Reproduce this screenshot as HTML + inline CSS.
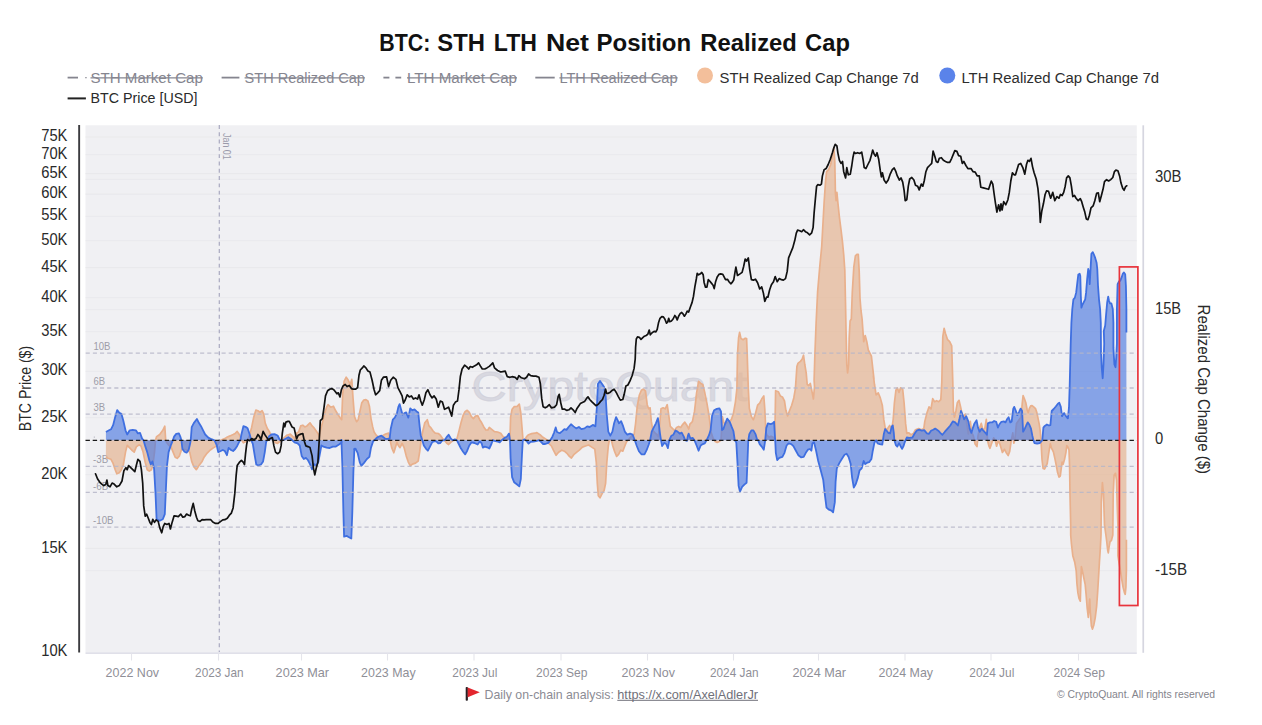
<!DOCTYPE html>
<html><head><meta charset="utf-8"><title>BTC: STH LTH Net Position Realized Cap</title>
<style>html,body{margin:0;padding:0;background:#fff;}body{width:1262px;height:725px;overflow:hidden;font-family:"Liberation Sans",sans-serif;}svg{display:block;}text{font-family:"Liberation Sans",sans-serif;}</style>
</head><body>
<svg width="1262" height="725" viewBox="0 0 1262 725">
<rect x="0" y="0" width="1262" height="725" fill="#ffffff"/>
<rect x="85.5" y="125.3" width="1051.3" height="527.3" fill="#f0f0f3"/>
<g stroke="#e9e9ec" stroke-width="1.1">
<line x1="85.5" y1="548.4" x2="1136.8" y2="548.4"/>
<line x1="85.5" y1="474.8" x2="1136.8" y2="474.8"/>
<line x1="85.5" y1="417.8" x2="1136.8" y2="417.8"/>
<line x1="85.5" y1="371.2" x2="1136.8" y2="371.2"/>
<line x1="85.5" y1="331.8" x2="1136.8" y2="331.8"/>
<line x1="85.5" y1="297.7" x2="1136.8" y2="297.7"/>
<line x1="85.5" y1="267.6" x2="1136.8" y2="267.6"/>
<line x1="85.5" y1="240.7" x2="1136.8" y2="240.7"/>
<line x1="85.5" y1="216.3" x2="1136.8" y2="216.3"/>
<line x1="85.5" y1="194.1" x2="1136.8" y2="194.1"/>
<line x1="85.5" y1="173.6" x2="1136.8" y2="173.6"/>
<line x1="85.5" y1="154.7" x2="1136.8" y2="154.7"/>
<line x1="85.5" y1="137.0" x2="1136.8" y2="137.0"/>
<line x1="85.5" y1="570.7" x2="1136.8" y2="570.7"/>
<line x1="85.5" y1="309.7" x2="1136.8" y2="309.7"/>
<line x1="85.5" y1="179.2" x2="1136.8" y2="179.2"/>
</g>
<line x1="85.5" y1="653.1" x2="1136.8" y2="653.1" stroke="#d6d6e2" stroke-width="1.2"/>
<g stroke="#e5e5eb" stroke-width="1.1">
<line x1="131.5" y1="653.6" x2="131.5" y2="660.5"/>
<line x1="218.5" y1="653.6" x2="218.5" y2="660.5"/>
<line x1="301.5" y1="653.6" x2="301.5" y2="660.5"/>
<line x1="387.5" y1="653.6" x2="387.5" y2="660.5"/>
<line x1="474.0" y1="653.6" x2="474.0" y2="660.5"/>
<line x1="561.0" y1="653.6" x2="561.0" y2="660.5"/>
<line x1="647.5" y1="653.6" x2="647.5" y2="660.5"/>
<line x1="733.5" y1="653.6" x2="733.5" y2="660.5"/>
<line x1="818.5" y1="653.6" x2="818.5" y2="660.5"/>
<line x1="905.0" y1="653.6" x2="905.0" y2="660.5"/>
<line x1="991.0" y1="653.6" x2="991.0" y2="660.5"/>
<line x1="1078.5" y1="653.6" x2="1078.5" y2="660.5"/>
</g>
<text x="471.5" y="401" font-size="42" fill="#cfcfd9" fill-opacity="0.72" stroke="#cfcfd9" stroke-opacity="0.72" stroke-width="0.9" textLength="276" lengthAdjust="spacingAndGlyphs">CryptoQuant</text>
<text x="93.4" y="350.3" font-size="10.4" fill="#9d9da8" textLength="17.0" lengthAdjust="spacingAndGlyphs">10B</text>
<text x="93.4" y="385.1" font-size="10.4" fill="#9d9da8" textLength="11.6" lengthAdjust="spacingAndGlyphs">6B</text>
<text x="93.4" y="411.2" font-size="10.4" fill="#9d9da8" textLength="11.6" lengthAdjust="spacingAndGlyphs">3B</text>
<text x="93.0" y="463.4" font-size="10.4" fill="#9d9da8" textLength="15.2" lengthAdjust="spacingAndGlyphs">-3B</text>
<text x="93.0" y="489.5" font-size="10.4" fill="#9d9da8" textLength="15.2" lengthAdjust="spacingAndGlyphs">-6B</text>
<text x="93.0" y="524.3" font-size="10.4" fill="#9d9da8" textLength="20.6" lengthAdjust="spacingAndGlyphs">-10B</text>
<rect x="93.8" y="436.6" width="1" height="1" fill="#a5a5b0"/>
<line x1="219.3" y1="125" x2="219.3" y2="652" stroke="#a9a9c0" stroke-width="1.2" stroke-dasharray="3.9 3.4"/>
<text transform="translate(222.6,133) rotate(90)" font-size="10" fill="#9b9bab" textLength="26.8" lengthAdjust="spacingAndGlyphs">Jan 01</text>
<path d="M105.9 440.2 L105.9 440.3 L105.9 457.2 L107.9 458.3 L111.0 459.3 L113.1 463.4 L115.2 469.7 L116.8 473.8 L119.3 472.8 L121.4 469.7 L123.4 464.5 L125.5 452.1 L127.2 445.4 L129.7 447.9 L131.7 450.0 L134.2 452.1 L136.3 446.9 L139.0 444.8 L141.0 445.9 L143.1 452.1 L145.2 462.4 L147.2 469.7 L149.3 471.1 L151.4 469.7 L152.8 465.5 L154.5 452.1 L155.5 440.3 L156.6 436.6 L159.7 434.5 L162.8 430.3 L164.8 426.2 L165.7 440.3 L166.9 442.8 L169.0 445.4 L171.0 446.9 L173.1 452.1 L175.2 457.2 L177.2 458.3 L179.3 456.2 L181.4 450.0 L183.4 449.0 L186.6 450.0 L189.7 452.1 L191.7 461.4 L193.8 466.6 L196.3 469.7 L199.0 465.5 L202.1 461.4 L204.1 457.2 L207.2 453.1 L210.3 450.0 L213.4 447.9 L216.6 445.9 L218.2 443.8 L220.7 440.3 L224.8 438.6 L226.9 437.2 L230.0 435.9 L233.1 434.5 L235.2 433.4 L237.2 431.4 L239.3 434.5 L241.4 439.7 L243.4 442.8 L245.5 441.7 L247.6 440.3 L249.7 434.5 L251.7 427.2 L253.8 416.9 L255.9 410.1 L257.9 410.7 L260.0 412.3 L262.1 410.7 L263.7 413.8 L265.2 423.1 L267.2 428.3 L269.3 431.4 L271.4 436.6 L273.4 440.3 L275.5 442.8 L277.6 443.4 L279.7 441.7 L281.7 440.3 L283.8 438.0 L286.9 435.1 L287.2 435.2 L290.3 434.1 L292.4 436.2 L294.5 438.3 L296.6 433.1 L298.6 432.1 L300.7 425.9 L302.8 425.2 L304.8 426.9 L306.9 425.9 L310.0 422.8 L312.1 425.9 L314.1 427.9 L316.2 431.0 L318.3 434.1 L319.3 437.2 L320.3 431.0 L322.4 422.8 L324.5 413.4 L326.6 407.2 L328.0 404.6 L330.7 407.2 L333.4 406.2 L335.4 410.3 L337.9 414.5 L340.0 417.6 L341.7 419.7 L342.7 393.8 L344.1 381.4 L346.2 377.2 L348.3 380.3 L350.3 384.5 L351.8 379.3 L353.0 397.9 L354.5 416.6 L356.6 421.7 L358.2 419.7 L359.7 412.4 L361.7 403.1 L363.8 400.0 L365.9 399.6 L367.9 401.0 L369.4 406.2 L371.0 418.6 L372.7 426.9 L374.1 432.1 L376.2 435.2 L378.3 437.2 L379.3 439.3 L381.4 437.2 L383.4 435.2 L385.5 434.1 L388.6 433.1 L390.1 440.3 L391.7 447.6 L393.8 452.8 L395.4 447.6 L396.9 442.4 L398.3 445.5 L400.0 447.6 L402.1 443.4 L404.1 447.6 L406.2 455.9 L408.3 462.1 L410.3 465.8 L412.4 464.1 L415.5 463.1 L418.2 461.0 L419.7 451.7 L421.1 440.3 L422.8 431.0 L424.8 422.8 L427.3 419.7 L429.0 425.9 L431.0 427.9 L433.1 431.0 L435.2 433.1 L438.3 433.5 L440.3 435.2 L442.4 438.3 L444.5 440.3 L446.6 443.0 L448.6 444.5 L450.7 442.4 L452.8 440.8 L454.8 440.3 L456.9 438.9 L459.0 431.0 L461.0 422.8 L463.1 415.5 L465.2 411.4 L467.2 410.3 L469.3 412.4 L471.4 416.6 L473.4 418.6 L475.5 416.1 L477.6 415.5 L479.7 419.7 L481.7 422.8 L483.8 426.9 L485.9 430.0 L487.9 430.0 L489.3 427.4 L491.4 429.1 L494.5 431.6 L497.6 432.0 L500.7 433.2 L503.2 436.7 L505.9 437.8 L507.9 438.8 L510.0 437.8 L510.6 417.1 L512.1 409.2 L514.1 406.7 L517.2 406.3 L519.3 404.2 L520.8 412.9 L522.0 427.4 L523.0 440.2 L524.5 440.2 L526.6 436.7 L528.6 434.7 L531.7 433.6 L534.8 433.2 L536.9 432.6 L540.0 434.7 L542.1 436.7 L545.2 438.8 L547.2 440.2 L549.3 444.0 L551.4 446.0 L553.4 450.2 L556.1 455.3 L558.6 452.2 L561.7 450.2 L564.4 451.2 L566.9 453.3 L569.4 456.4 L571.4 458.0 L574.1 454.3 L576.8 452.2 L579.3 450.2 L582.4 447.1 L585.5 446.0 L588.6 445.0 L591.7 447.1 L594.8 449.1 L596.3 462.6 L597.3 483.3 L598.3 495.7 L600.0 497.8 L602.1 493.6 L604.1 490.5 L605.6 483.3 L606.8 462.6 L608.3 446.0 L609.3 440.2 L611.4 440.2 L612.8 446.0 L614.5 451.2 L616.6 456.4 L618.6 454.3 L620.7 450.2 L622.8 451.2 L624.8 446.0 L626.5 441.9 L627.9 440.2 L630.0 437.8 L632.1 435.7 L634.1 434.7 L635.6 423.3 L637.2 406.7 L639.3 395.3 L641.4 390.2 L643.4 389.1 L645.5 391.2 L647.2 404.7 L648.6 408.8 L650.1 407.8 L651.3 421.2 L652.8 430.5 L654.8 432.6 L656.9 434.7 L658.3 436.7 L659.6 425.3 L661.0 408.8 L663.1 407.8 L665.2 408.8 L667.2 404.7 L668.7 415.0 L670.3 426.4 L672.4 428.4 L674.5 430.5 L676.6 427.4 L678.6 426.4 L680.7 427.4 L682.8 424.3 L684.8 422.2 L686.9 425.3 L688.7 429.0 L689.9 424.2 L692.4 421.7 L694.5 411.4 L696.6 392.8 L698.6 381.4 L700.7 383.4 L702.8 384.5 L704.8 392.8 L706.9 403.1 L709.0 415.5 L711.0 432.1 L713.1 438.3 L715.2 441.4 L717.2 442.4 L719.3 441.4 L721.0 440.3 L722.4 416.6 L723.9 422.8 L725.5 423.8 L728.6 421.7 L731.3 419.7 L733.4 413.4 L735.4 402.1 L736.9 388.6 L737.5 354.1 L738.6 337.6 L739.6 332.4 L741.0 338.6 L743.1 339.7 L745.2 338.2 L746.6 338.6 L747.2 354.1 L748.3 388.6 L749.3 408.3 L751.4 416.6 L753.4 419.7 L755.5 413.4 L757.6 405.2 L759.7 403.1 L761.7 399.0 L763.8 395.9 L764.8 409.3 L765.9 432.1 L766.9 435.2 L769.0 437.2 L771.0 436.2 L773.1 437.2 L774.8 438.3 L775.6 390.7 L778.3 391.7 L780.3 395.9 L782.4 396.9 L784.5 401.0 L785.9 410.3 L787.6 415.9 L789.7 410.3 L791.7 405.2 L793.8 397.9 L795.4 388.6 L796.9 366.6 L797.9 363.4 L800.4 361.4 L802.1 359.3 L803.5 355.2 L804.8 364.5 L806.2 372.8 L807.2 384.5 L808.7 385.5 L810.3 383.4 L812.0 391.7 L813.4 399.0 L814.5 386.6 L814.1 380.0 L814.9 354.1 L816.1 323.1 L817.6 292.1 L819.7 267.2 L821.7 246.6 L822.4 233.8 L824.1 202.8 L825.5 182.1 L826.6 171.7 L828.6 169.7 L830.7 164.5 L832.3 155.2 L833.8 147.9 L834.8 161.4 L835.4 192.4 L836.1 200.7 L836.9 192.4 L837.9 202.8 L839.4 217.2 L841.0 229.7 L842.5 242.1 L843.7 254.5 L844.8 270.0 L845.5 302.4 L846.1 333.4 L846.8 364.5 L847.6 372.8 L848.6 364.5 L849.2 337.6 L850.1 321.0 L851.3 319.0 L852.3 292.1 L853.8 267.2 L855.4 255.9 L856.9 254.4 L858.3 254.4 L859.2 271.4 L860.0 298.3 L861.0 310.7 L862.1 319.0 L863.7 341.7 L865.2 335.5 L866.8 341.7 L868.3 350.0 L869.9 353.1 L871.4 356.2 L872.8 368.6 L874.1 380.0 L873.4 376.2 L874.5 384.5 L876.1 394.8 L878.2 392.8 L880.3 397.9 L882.3 405.2 L883.8 419.7 L885.2 427.9 L886.9 430.0 L888.2 427.6 L889.7 425.5 L891.7 429.7 L893.2 419.3 L894.4 402.8 L895.9 390.3 L897.3 387.9 L899.0 392.4 L900.6 387.9 L902.7 389.3 L904.1 402.8 L905.6 423.4 L906.8 433.4 L908.9 432.8 L911.0 434.8 L913.4 433.4 L915.5 429.7 L918.6 428.6 L921.7 429.7 L923.8 428.6 L924.8 421.4 L926.9 413.1 L929.0 406.9 L931.0 409.0 L932.7 398.6 L934.6 401.7 L936.6 400.7 L938.7 401.7 L940.8 399.7 L941.8 382.1 L942.8 336.6 L944.1 328.3 L945.5 333.4 L947.6 339.7 L949.7 341.7 L951.7 345.9 L952.8 382.1 L953.4 411.0 L954.4 417.2 L955.9 411.0 L957.3 402.8 L959.0 400.3 L960.6 406.9 L962.1 414.1 L963.5 417.2 L965.2 414.1 L966.8 423.4 L968.3 433.8 L970.3 421.4 L971.8 432.8 L973.4 435.9 L975.1 444.1 L977.0 446.6 L978.0 435.9 L979.7 427.6 L981.3 423.4 L982.8 429.7 L984.8 428.6 L986.3 419.3 L987.5 440.2 L989.0 446.2 L990.0 448.3 L992.1 442.1 L993.7 437.9 L995.2 440.2 L996.6 446.2 L998.3 440.2 L999.9 444.1 L1002.4 452.4 L1004.5 449.3 L1006.1 452.4 L1008.2 455.5 L1009.7 451.4 L1011.3 440.2 L1012.8 432.8 L1013.8 443.1 L1014.8 440.2 L1016.5 423.4 L1017.9 421.4 L1019.4 419.3 L1021.0 417.2 L1022.3 402.8 L1023.1 395.5 L1024.5 399.0 L1025.9 403.1 L1027.2 410.0 L1028.2 412.8 L1029.3 408.6 L1030.7 405.9 L1032.1 405.6 L1033.4 406.6 L1035.5 408.6 L1036.9 412.8 L1038.3 419.7 L1039.4 425.2 L1040.1 430.0 L1041.0 440.2 L1042.0 459.5 L1043.1 468.4 L1044.5 469.1 L1045.9 466.4 L1047.2 463.6 L1048.6 454.0 L1050.3 443.6 L1051.4 447.8 L1053.4 451.9 L1054.8 458.1 L1056.2 465.0 L1057.6 472.6 L1059.0 477.1 L1060.3 476.0 L1061.3 467.8 L1062.1 462.2 L1063.1 464.3 L1064.5 459.5 L1065.9 452.6 L1066.8 445.7 L1067.9 447.1 L1069.0 449.8 L1069.6 466.4 L1070.0 494.0 L1070.7 525.0 L1070.7 535.0 L1071.4 543.3 L1072.8 555.7 L1074.8 562.6 L1076.2 570.9 L1076.9 583.3 L1077.9 592.9 L1079.0 598.4 L1080.3 601.2 L1080.8 583.3 L1081.4 566.7 L1082.4 570.9 L1083.8 577.8 L1085.2 584.7 L1086.1 594.3 L1087.2 608.1 L1088.3 617.5 L1089.0 606.7 L1089.7 599.1 L1090.3 612.2 L1091.4 626.0 L1092.5 629.1 L1093.9 624.7 L1095.2 617.8 L1096.6 606.7 L1097.6 592.9 L1098.6 576.4 L1099.4 562.6 L1100.3 548.8 L1101.0 535.0 L1101.3 502.2 L1102.4 482.7 L1103.5 494.0 L1104.5 525.0 L1105.9 535.0 L1106.6 540.5 L1107.7 550.2 L1108.3 552.9 L1109.0 547.4 L1110.0 541.9 L1111.4 540.5 L1112.8 535.0 L1113.2 494.0 L1114.1 475.3 L1115.5 473.3 L1116.5 480.2 L1117.3 507.8 L1117.9 525.0 L1117.9 555.7 L1119.0 562.6 L1120.3 569.5 L1121.7 579.1 L1123.1 587.4 L1124.5 592.9 L1125.2 594.3 L1125.9 587.4 L1126.4 569.5 L1126.4 539.8 L1126.4 440.2 L1126.4 440.2 Z" fill="#e5b594" fill-opacity="0.72"/>
<path d="M105.9 457.2 L107.9 458.3 L111.0 459.3 L113.1 463.4 L115.2 469.7 L116.8 473.8 L119.3 472.8 L121.4 469.7 L123.4 464.5 L125.5 452.1 L127.2 445.4 L129.7 447.9 L131.7 450.0 L134.2 452.1 L136.3 446.9 L139.0 444.8 L141.0 445.9 L143.1 452.1 L145.2 462.4 L147.2 469.7 L149.3 471.1 L151.4 469.7 L152.8 465.5 L154.5 452.1 L155.5 440.3 L156.6 436.6 L159.7 434.5 L162.8 430.3 L164.8 426.2 L165.7 440.3 L166.9 442.8 L169.0 445.4 L171.0 446.9 L173.1 452.1 L175.2 457.2 L177.2 458.3 L179.3 456.2 L181.4 450.0 L183.4 449.0 L186.6 450.0 L189.7 452.1 L191.7 461.4 L193.8 466.6 L196.3 469.7 L199.0 465.5 L202.1 461.4 L204.1 457.2 L207.2 453.1 L210.3 450.0 L213.4 447.9 L216.6 445.9 L218.2 443.8 L220.7 440.3 L224.8 438.6 L226.9 437.2 L230.0 435.9 L233.1 434.5 L235.2 433.4 L237.2 431.4 L239.3 434.5 L241.4 439.7 L243.4 442.8 L245.5 441.7 L247.6 440.3 L249.7 434.5 L251.7 427.2 L253.8 416.9 L255.9 410.1 L257.9 410.7 L260.0 412.3 L262.1 410.7 L263.7 413.8 L265.2 423.1 L267.2 428.3 L269.3 431.4 L271.4 436.6 L273.4 440.3 L275.5 442.8 L277.6 443.4 L279.7 441.7 L281.7 440.3 L283.8 438.0 L286.9 435.1 L287.2 435.2 L290.3 434.1 L292.4 436.2 L294.5 438.3 L296.6 433.1 L298.6 432.1 L300.7 425.9 L302.8 425.2 L304.8 426.9 L306.9 425.9 L310.0 422.8 L312.1 425.9 L314.1 427.9 L316.2 431.0 L318.3 434.1 L319.3 437.2 L320.3 431.0 L322.4 422.8 L324.5 413.4 L326.6 407.2 L328.0 404.6 L330.7 407.2 L333.4 406.2 L335.4 410.3 L337.9 414.5 L340.0 417.6 L341.7 419.7 L342.7 393.8 L344.1 381.4 L346.2 377.2 L348.3 380.3 L350.3 384.5 L351.8 379.3 L353.0 397.9 L354.5 416.6 L356.6 421.7 L358.2 419.7 L359.7 412.4 L361.7 403.1 L363.8 400.0 L365.9 399.6 L367.9 401.0 L369.4 406.2 L371.0 418.6 L372.7 426.9 L374.1 432.1 L376.2 435.2 L378.3 437.2 L379.3 439.3 L381.4 437.2 L383.4 435.2 L385.5 434.1 L388.6 433.1 L390.1 440.3 L391.7 447.6 L393.8 452.8 L395.4 447.6 L396.9 442.4 L398.3 445.5 L400.0 447.6 L402.1 443.4 L404.1 447.6 L406.2 455.9 L408.3 462.1 L410.3 465.8 L412.4 464.1 L415.5 463.1 L418.2 461.0 L419.7 451.7 L421.1 440.3 L422.8 431.0 L424.8 422.8 L427.3 419.7 L429.0 425.9 L431.0 427.9 L433.1 431.0 L435.2 433.1 L438.3 433.5 L440.3 435.2 L442.4 438.3 L444.5 440.3 L446.6 443.0 L448.6 444.5 L450.7 442.4 L452.8 440.8 L454.8 440.3 L456.9 438.9 L459.0 431.0 L461.0 422.8 L463.1 415.5 L465.2 411.4 L467.2 410.3 L469.3 412.4 L471.4 416.6 L473.4 418.6 L475.5 416.1 L477.6 415.5 L479.7 419.7 L481.7 422.8 L483.8 426.9 L485.9 430.0 L487.9 430.0 L489.3 427.4 L491.4 429.1 L494.5 431.6 L497.6 432.0 L500.7 433.2 L503.2 436.7 L505.9 437.8 L507.9 438.8 L510.0 437.8 L510.6 417.1 L512.1 409.2 L514.1 406.7 L517.2 406.3 L519.3 404.2 L520.8 412.9 L522.0 427.4 L523.0 440.2 L524.5 440.2 L526.6 436.7 L528.6 434.7 L531.7 433.6 L534.8 433.2 L536.9 432.6 L540.0 434.7 L542.1 436.7 L545.2 438.8 L547.2 440.2 L549.3 444.0 L551.4 446.0 L553.4 450.2 L556.1 455.3 L558.6 452.2 L561.7 450.2 L564.4 451.2 L566.9 453.3 L569.4 456.4 L571.4 458.0 L574.1 454.3 L576.8 452.2 L579.3 450.2 L582.4 447.1 L585.5 446.0 L588.6 445.0 L591.7 447.1 L594.8 449.1 L596.3 462.6 L597.3 483.3 L598.3 495.7 L600.0 497.8 L602.1 493.6 L604.1 490.5 L605.6 483.3 L606.8 462.6 L608.3 446.0 L609.3 440.2 L611.4 440.2 L612.8 446.0 L614.5 451.2 L616.6 456.4 L618.6 454.3 L620.7 450.2 L622.8 451.2 L624.8 446.0 L626.5 441.9 L627.9 440.2 L630.0 437.8 L632.1 435.7 L634.1 434.7 L635.6 423.3 L637.2 406.7 L639.3 395.3 L641.4 390.2 L643.4 389.1 L645.5 391.2 L647.2 404.7 L648.6 408.8 L650.1 407.8 L651.3 421.2 L652.8 430.5 L654.8 432.6 L656.9 434.7 L658.3 436.7 L659.6 425.3 L661.0 408.8 L663.1 407.8 L665.2 408.8 L667.2 404.7 L668.7 415.0 L670.3 426.4 L672.4 428.4 L674.5 430.5 L676.6 427.4 L678.6 426.4 L680.7 427.4 L682.8 424.3 L684.8 422.2 L686.9 425.3 L688.7 429.0 L689.9 424.2 L692.4 421.7 L694.5 411.4 L696.6 392.8 L698.6 381.4 L700.7 383.4 L702.8 384.5 L704.8 392.8 L706.9 403.1 L709.0 415.5 L711.0 432.1 L713.1 438.3 L715.2 441.4 L717.2 442.4 L719.3 441.4 L721.0 440.3 L722.4 416.6 L723.9 422.8 L725.5 423.8 L728.6 421.7 L731.3 419.7 L733.4 413.4 L735.4 402.1 L736.9 388.6 L737.5 354.1 L738.6 337.6 L739.6 332.4 L741.0 338.6 L743.1 339.7 L745.2 338.2 L746.6 338.6 L747.2 354.1 L748.3 388.6 L749.3 408.3 L751.4 416.6 L753.4 419.7 L755.5 413.4 L757.6 405.2 L759.7 403.1 L761.7 399.0 L763.8 395.9 L764.8 409.3 L765.9 432.1 L766.9 435.2 L769.0 437.2 L771.0 436.2 L773.1 437.2 L774.8 438.3 L775.6 390.7 L778.3 391.7 L780.3 395.9 L782.4 396.9 L784.5 401.0 L785.9 410.3 L787.6 415.9 L789.7 410.3 L791.7 405.2 L793.8 397.9 L795.4 388.6 L796.9 366.6 L797.9 363.4 L800.4 361.4 L802.1 359.3 L803.5 355.2 L804.8 364.5 L806.2 372.8 L807.2 384.5 L808.7 385.5 L810.3 383.4 L812.0 391.7 L813.4 399.0 L814.5 386.6 L814.1 380.0 L814.9 354.1 L816.1 323.1 L817.6 292.1 L819.7 267.2 L821.7 246.6 L822.4 233.8 L824.1 202.8 L825.5 182.1 L826.6 171.7 L828.6 169.7 L830.7 164.5 L832.3 155.2 L833.8 147.9 L834.8 161.4 L835.4 192.4 L836.1 200.7 L836.9 192.4 L837.9 202.8 L839.4 217.2 L841.0 229.7 L842.5 242.1 L843.7 254.5 L844.8 270.0 L845.5 302.4 L846.1 333.4 L846.8 364.5 L847.6 372.8 L848.6 364.5 L849.2 337.6 L850.1 321.0 L851.3 319.0 L852.3 292.1 L853.8 267.2 L855.4 255.9 L856.9 254.4 L858.3 254.4 L859.2 271.4 L860.0 298.3 L861.0 310.7 L862.1 319.0 L863.7 341.7 L865.2 335.5 L866.8 341.7 L868.3 350.0 L869.9 353.1 L871.4 356.2 L872.8 368.6 L874.1 380.0 L873.4 376.2 L874.5 384.5 L876.1 394.8 L878.2 392.8 L880.3 397.9 L882.3 405.2 L883.8 419.7 L885.2 427.9 L886.9 430.0 L888.2 427.6 L889.7 425.5 L891.7 429.7 L893.2 419.3 L894.4 402.8 L895.9 390.3 L897.3 387.9 L899.0 392.4 L900.6 387.9 L902.7 389.3 L904.1 402.8 L905.6 423.4 L906.8 433.4 L908.9 432.8 L911.0 434.8 L913.4 433.4 L915.5 429.7 L918.6 428.6 L921.7 429.7 L923.8 428.6 L924.8 421.4 L926.9 413.1 L929.0 406.9 L931.0 409.0 L932.7 398.6 L934.6 401.7 L936.6 400.7 L938.7 401.7 L940.8 399.7 L941.8 382.1 L942.8 336.6 L944.1 328.3 L945.5 333.4 L947.6 339.7 L949.7 341.7 L951.7 345.9 L952.8 382.1 L953.4 411.0 L954.4 417.2 L955.9 411.0 L957.3 402.8 L959.0 400.3 L960.6 406.9 L962.1 414.1 L963.5 417.2 L965.2 414.1 L966.8 423.4 L968.3 433.8 L970.3 421.4 L971.8 432.8 L973.4 435.9 L975.1 444.1 L977.0 446.6 L978.0 435.9 L979.7 427.6 L981.3 423.4 L982.8 429.7 L984.8 428.6 L986.3 419.3 L987.5 440.2 L989.0 446.2 L990.0 448.3 L992.1 442.1 L993.7 437.9 L995.2 440.2 L996.6 446.2 L998.3 440.2 L999.9 444.1 L1002.4 452.4 L1004.5 449.3 L1006.1 452.4 L1008.2 455.5 L1009.7 451.4 L1011.3 440.2 L1012.8 432.8 L1013.8 443.1 L1014.8 440.2 L1016.5 423.4 L1017.9 421.4 L1019.4 419.3 L1021.0 417.2 L1022.3 402.8 L1023.1 395.5 L1024.5 399.0 L1025.9 403.1 L1027.2 410.0 L1028.2 412.8 L1029.3 408.6 L1030.7 405.9 L1032.1 405.6 L1033.4 406.6 L1035.5 408.6 L1036.9 412.8 L1038.3 419.7 L1039.4 425.2 L1040.1 430.0 L1041.0 440.2 L1042.0 459.5 L1043.1 468.4 L1044.5 469.1 L1045.9 466.4 L1047.2 463.6 L1048.6 454.0 L1050.3 443.6 L1051.4 447.8 L1053.4 451.9 L1054.8 458.1 L1056.2 465.0 L1057.6 472.6 L1059.0 477.1 L1060.3 476.0 L1061.3 467.8 L1062.1 462.2 L1063.1 464.3 L1064.5 459.5 L1065.9 452.6 L1066.8 445.7 L1067.9 447.1 L1069.0 449.8 L1069.6 466.4 L1070.0 494.0 L1070.7 525.0 L1070.7 535.0 L1071.4 543.3 L1072.8 555.7 L1074.8 562.6 L1076.2 570.9 L1076.9 583.3 L1077.9 592.9 L1079.0 598.4 L1080.3 601.2 L1080.8 583.3 L1081.4 566.7 L1082.4 570.9 L1083.8 577.8 L1085.2 584.7 L1086.1 594.3 L1087.2 608.1 L1088.3 617.5 L1089.0 606.7 L1089.7 599.1 L1090.3 612.2 L1091.4 626.0 L1092.5 629.1 L1093.9 624.7 L1095.2 617.8 L1096.6 606.7 L1097.6 592.9 L1098.6 576.4 L1099.4 562.6 L1100.3 548.8 L1101.0 535.0 L1101.3 502.2 L1102.4 482.7 L1103.5 494.0 L1104.5 525.0 L1105.9 535.0 L1106.6 540.5 L1107.7 550.2 L1108.3 552.9 L1109.0 547.4 L1110.0 541.9 L1111.4 540.5 L1112.8 535.0 L1113.2 494.0 L1114.1 475.3 L1115.5 473.3 L1116.5 480.2 L1117.3 507.8 L1117.9 525.0 L1117.9 555.7 L1119.0 562.6 L1120.3 569.5 L1121.7 579.1 L1123.1 587.4 L1124.5 592.9 L1125.2 594.3 L1125.9 587.4 L1126.4 569.5 L1126.4 539.8" fill="none" stroke="#e9b08c" stroke-width="1.7" stroke-linejoin="round"/>
<path d="M105.9 440.2 L105.9 440.3 L105.9 432.0 L109.0 430.3 L111.0 429.3 L113.1 425.2 L115.2 416.9 L117.2 410.1 L119.3 412.8 L121.4 413.8 L123.4 421.0 L125.5 430.3 L127.2 434.5 L129.7 430.3 L132.8 429.9 L135.9 430.3 L137.9 433.4 L140.0 432.8 L142.1 438.6 L143.5 440.3 L145.2 445.9 L147.2 452.1 L149.3 460.3 L150.8 464.5 L152.4 461.4 L154.1 468.6 L155.5 493.4 L156.6 519.3 L159.7 520.8 L162.8 519.3 L164.8 514.1 L165.9 489.3 L166.9 466.6 L168.6 452.1 L171.0 444.8 L172.7 440.7 L174.1 436.6 L176.2 433.9 L178.9 433.4 L180.3 436.6 L181.4 440.3 L182.4 449.0 L184.5 451.7 L186.6 452.7 L188.6 450.0 L190.1 443.8 L190.7 440.3 L191.7 427.2 L193.8 423.1 L196.9 419.0 L199.0 423.1 L201.0 426.2 L203.1 430.3 L205.2 434.5 L208.3 437.6 L211.4 439.2 L214.5 440.3 L216.6 444.8 L218.2 452.1 L220.7 451.0 L222.8 450.0 L224.8 451.0 L226.9 455.2 L228.6 447.9 L231.0 450.0 L233.1 451.0 L235.2 449.0 L237.2 445.9 L239.3 441.7 L240.3 440.3 L241.4 434.5 L243.4 426.2 L245.5 426.8 L247.6 428.3 L249.7 434.5 L251.3 440.3 L252.8 443.8 L254.8 456.2 L256.3 464.5 L258.3 465.5 L261.0 464.5 L263.1 461.4 L264.8 452.1 L266.2 441.7 L267.2 440.3 L269.3 435.9 L271.4 434.5 L274.5 434.1 L277.6 435.5 L279.7 439.7 L281.7 440.7 L283.8 439.7 L286.9 438.0 L288.3 437.2 L291.4 439.3 L292.4 440.3 L294.5 442.4 L297.6 443.4 L299.7 445.5 L301.7 455.9 L303.8 459.0 L305.9 457.9 L307.9 460.0 L310.0 464.1 L312.1 469.3 L314.1 464.1 L316.2 466.2 L318.3 462.1 L320.3 451.7 L321.4 445.5 L323.4 446.6 L326.6 447.6 L329.7 448.0 L332.8 446.6 L335.9 446.6 L339.0 444.5 L341.7 442.4 L341.4 439.9 L342.4 467.2 L343.4 512.8 L344.1 536.6 L346.6 535.9 L349.0 537.2 L351.3 538.6 L352.3 512.8 L353.4 471.4 L354.4 448.6 L354.1 449.7 L355.5 448.6 L357.6 452.8 L359.7 462.1 L361.3 465.8 L363.8 463.1 L366.9 459.0 L369.4 456.9 L371.0 447.6 L373.1 441.4 L374.1 440.3 L376.2 438.3 L378.3 436.8 L381.4 435.6 L383.4 437.2 L385.5 438.9 L387.6 438.9 L389.7 438.3 L390.7 429.0 L392.8 419.7 L394.8 417.6 L396.9 413.4 L398.3 407.2 L399.6 404.1 L401.0 409.3 L402.5 414.5 L404.1 413.4 L406.2 412.4 L408.3 417.6 L410.3 408.3 L412.4 410.3 L414.5 409.3 L416.6 411.4 L418.2 412.4 L419.7 426.9 L420.7 435.2 L422.3 440.3 L423.8 445.5 L425.9 448.6 L427.9 450.7 L430.0 446.6 L432.1 442.4 L434.1 441.0 L436.2 441.4 L438.3 443.4 L440.3 443.0 L442.4 440.3 L444.5 440.3 L446.6 437.2 L448.6 434.8 L450.7 438.3 L452.8 440.3 L454.8 439.3 L456.9 440.3 L459.0 444.5 L461.0 448.6 L463.1 451.7 L465.2 454.4 L467.2 450.7 L469.3 445.5 L471.4 442.4 L474.5 443.0 L477.6 444.5 L479.7 441.4 L481.7 443.4 L482.8 447.6 L484.8 446.6 L487.9 447.6 L489.3 448.5 L491.4 444.0 L492.8 440.2 L494.5 440.9 L497.6 441.5 L499.7 442.3 L501.7 440.2 L504.8 437.8 L506.9 436.7 L509.0 433.6 L510.0 440.2 L510.6 458.4 L512.1 477.1 L514.1 482.2 L516.8 484.3 L519.3 486.4 L520.8 479.1 L522.0 454.3 L522.8 440.2 L524.5 439.4 L526.6 440.9 L528.6 443.6 L530.7 441.9 L533.8 441.5 L536.9 440.9 L539.0 440.2 L541.0 441.9 L543.1 444.0 L545.2 444.0 L548.3 442.9 L550.3 440.2 L552.4 436.7 L554.1 432.6 L555.7 427.4 L557.0 432.0 L559.7 433.2 L562.3 431.1 L564.4 429.1 L566.5 429.9 L568.6 427.0 L571.0 424.3 L573.5 426.4 L576.2 428.4 L578.9 427.0 L581.4 429.1 L584.5 428.4 L587.2 426.4 L589.7 427.0 L592.8 424.9 L595.4 426.4 L596.9 406.7 L597.9 384.0 L600.0 380.9 L602.1 384.0 L604.1 387.1 L605.6 395.3 L606.8 415.0 L608.3 431.6 L610.3 435.7 L612.4 431.6 L614.1 423.3 L616.1 417.1 L617.6 420.2 L619.0 423.3 L621.1 421.2 L623.2 426.4 L624.8 431.6 L627.3 434.7 L630.0 433.6 L632.7 434.7 L634.8 440.2 L636.8 446.0 L638.9 451.2 L641.4 454.3 L644.5 454.3 L646.6 450.2 L648.6 445.0 L650.1 440.2 L651.7 431.6 L653.8 427.4 L655.9 423.3 L657.9 418.1 L659.0 425.3 L660.0 433.6 L661.0 440.2 L662.1 446.0 L664.1 442.9 L666.2 444.0 L667.9 448.1 L669.3 440.2 L671.4 435.7 L673.4 434.7 L675.5 430.5 L677.6 431.6 L679.7 433.6 L681.7 432.6 L683.8 436.7 L685.2 440.2 L686.9 440.9 L687.9 435.7 L688.7 433.7 L690.3 438.3 L692.8 437.9 L694.5 440.3 L696.6 445.5 L698.6 450.7 L700.7 445.5 L702.8 444.1 L704.8 443.4 L706.5 440.3 L709.0 435.2 L710.6 430.0 L712.1 415.5 L714.1 410.3 L716.8 408.9 L719.3 408.3 L721.0 411.4 L722.0 430.0 L723.4 429.0 L725.1 423.8 L727.2 418.6 L729.7 421.7 L731.7 426.9 L733.4 431.0 L734.8 440.3 L736.3 442.4 L737.5 463.1 L738.6 485.9 L740.0 491.7 L742.1 486.9 L744.6 484.4 L746.6 482.8 L747.4 463.1 L748.3 440.3 L749.3 434.1 L751.4 430.4 L753.4 430.4 L755.5 434.1 L757.0 439.3 L758.2 440.3 L759.7 444.1 L761.7 446.6 L763.8 449.7 L765.2 440.3 L766.3 427.9 L767.9 423.4 L770.6 424.2 L772.7 423.4 L774.1 421.7 L775.2 440.3 L775.8 452.8 L777.2 460.0 L779.3 457.9 L782.4 456.9 L784.5 452.8 L786.6 445.5 L788.6 443.4 L791.3 444.1 L793.4 446.1 L795.9 450.7 L798.3 455.2 L801.0 457.3 L803.7 456.9 L805.8 452.8 L807.9 449.7 L809.9 449.0 L811.4 450.7 L812.4 443.4 L814.1 442.4 L816.1 450.7 L818.2 461.0 L820.7 470.3 L823.2 479.7 L824.8 494.1 L826.5 507.6 L829.0 509.7 L831.4 510.7 L833.1 512.3 L834.8 502.4 L835.6 481.7 L836.8 468.3 L839.3 463.1 L841.8 459.0 L844.5 454.8 L846.6 453.8 L848.6 456.9 L850.7 464.1 L852.1 477.6 L853.8 487.5 L855.9 483.8 L857.9 477.6 L859.6 470.3 L861.7 468.3 L863.7 461.0 L865.2 464.1 L867.2 462.7 L869.3 462.1 L871.4 459.0 L872.8 450.7 L874.5 442.4 L876.1 440.3 L877.6 443.4 L879.7 444.1 L882.3 444.5 L883.8 434.1 L885.2 429.0 L886.9 431.0 L888.2 432.8 L890.1 433.4 L891.7 426.6 L892.8 425.5 L893.8 432.8 L894.4 440.2 L895.9 445.2 L897.3 446.6 L899.0 443.1 L900.6 446.2 L902.1 448.9 L903.5 446.2 L904.8 442.1 L905.6 440.2 L906.8 437.5 L909.3 437.9 L912.4 437.5 L914.5 433.8 L916.6 430.7 L919.2 429.7 L921.7 430.7 L924.2 430.1 L926.9 433.4 L929.0 433.8 L931.0 430.7 L933.1 429.7 L935.2 428.6 L938.3 430.7 L940.3 432.8 L942.4 434.8 L944.9 431.7 L947.6 428.6 L950.3 425.5 L952.8 421.4 L955.2 422.4 L957.9 425.5 L959.4 419.3 L961.0 411.0 L962.7 415.2 L964.1 419.3 L966.2 416.2 L968.3 421.4 L969.7 428.6 L971.4 432.8 L973.0 427.6 L974.5 423.4 L976.6 420.3 L978.0 427.6 L979.7 431.7 L981.7 428.6 L983.4 430.7 L985.4 432.8 L986.9 434.8 L987.9 423.4 L990.0 422.4 L992.1 422.4 L994.1 421.0 L996.2 421.8 L997.9 427.6 L999.3 424.5 L1001.4 421.8 L1004.1 421.4 L1005.5 422.4 L1007.0 419.3 L1008.6 417.2 L1010.3 422.4 L1011.7 421.4 L1013.2 409.0 L1014.2 406.9 L1015.9 411.0 L1017.3 415.2 L1019.0 412.1 L1020.6 408.6 L1022.1 411.0 L1023.1 431.7 L1024.8 428.6 L1026.2 425.5 L1027.7 422.4 L1029.3 424.5 L1031.0 428.6 L1032.4 435.9 L1033.4 440.2 L1034.5 443.1 L1037.2 443.7 L1039.7 443.1 L1041.7 441.0 L1042.3 440.2 L1043.4 427.6 L1044.8 425.9 L1046.9 424.5 L1049.0 425.5 L1050.4 425.1 L1051.7 411.0 L1053.7 409.0 L1055.8 406.5 L1057.9 403.8 L1059.3 402.8 L1060.8 406.9 L1062.0 416.2 L1064.1 413.1 L1066.1 416.2 L1067.6 418.3 L1067.9 418.3 L1069.0 407.2 L1069.7 385.2 L1070.7 343.8 L1071.4 322.8 L1072.3 309.0 L1073.4 299.3 L1074.8 297.9 L1076.2 292.4 L1077.3 282.8 L1078.3 274.5 L1079.7 273.8 L1080.3 275.9 L1080.8 295.2 L1081.4 307.6 L1082.4 304.8 L1083.8 302.1 L1085.2 299.3 L1086.1 292.4 L1087.2 278.6 L1088.2 269.0 L1088.9 271.7 L1089.7 284.1 L1090.4 271.7 L1091.4 253.8 L1092.8 252.1 L1093.9 254.5 L1095.2 257.9 L1096.6 262.8 L1097.3 269.0 L1098.0 285.5 L1099.0 299.3 L1100.1 309.0 L1100.8 322.8 L1101.0 350.7 L1101.7 367.2 L1102.7 378.3 L1103.5 364.5 L1104.2 343.8 L1103.8 331.0 L1105.2 325.5 L1106.1 314.5 L1107.2 302.1 L1108.2 296.6 L1109.0 300.7 L1110.0 303.4 L1111.4 303.4 L1112.8 309.0 L1113.4 322.8 L1113.4 347.9 L1114.4 364.5 L1115.5 367.2 L1116.2 357.6 L1116.9 343.8 L1116.9 309.0 L1117.6 284.1 L1119.0 281.4 L1120.3 280.7 L1121.7 277.2 L1122.8 273.8 L1123.8 272.4 L1125.2 274.2 L1125.9 285.5 L1126.4 309.0 L1126.4 332.4 L1126.4 440.2 L1126.4 440.2 Z" fill="#4f7be0" fill-opacity="0.66"/>
<path d="M105.9 432.0 L109.0 430.3 L111.0 429.3 L113.1 425.2 L115.2 416.9 L117.2 410.1 L119.3 412.8 L121.4 413.8 L123.4 421.0 L125.5 430.3 L127.2 434.5 L129.7 430.3 L132.8 429.9 L135.9 430.3 L137.9 433.4 L140.0 432.8 L142.1 438.6 L143.5 440.3 L145.2 445.9 L147.2 452.1 L149.3 460.3 L150.8 464.5 L152.4 461.4 L154.1 468.6 L155.5 493.4 L156.6 519.3 L159.7 520.8 L162.8 519.3 L164.8 514.1 L165.9 489.3 L166.9 466.6 L168.6 452.1 L171.0 444.8 L172.7 440.7 L174.1 436.6 L176.2 433.9 L178.9 433.4 L180.3 436.6 L181.4 440.3 L182.4 449.0 L184.5 451.7 L186.6 452.7 L188.6 450.0 L190.1 443.8 L190.7 440.3 L191.7 427.2 L193.8 423.1 L196.9 419.0 L199.0 423.1 L201.0 426.2 L203.1 430.3 L205.2 434.5 L208.3 437.6 L211.4 439.2 L214.5 440.3 L216.6 444.8 L218.2 452.1 L220.7 451.0 L222.8 450.0 L224.8 451.0 L226.9 455.2 L228.6 447.9 L231.0 450.0 L233.1 451.0 L235.2 449.0 L237.2 445.9 L239.3 441.7 L240.3 440.3 L241.4 434.5 L243.4 426.2 L245.5 426.8 L247.6 428.3 L249.7 434.5 L251.3 440.3 L252.8 443.8 L254.8 456.2 L256.3 464.5 L258.3 465.5 L261.0 464.5 L263.1 461.4 L264.8 452.1 L266.2 441.7 L267.2 440.3 L269.3 435.9 L271.4 434.5 L274.5 434.1 L277.6 435.5 L279.7 439.7 L281.7 440.7 L283.8 439.7 L286.9 438.0 L288.3 437.2 L291.4 439.3 L292.4 440.3 L294.5 442.4 L297.6 443.4 L299.7 445.5 L301.7 455.9 L303.8 459.0 L305.9 457.9 L307.9 460.0 L310.0 464.1 L312.1 469.3 L314.1 464.1 L316.2 466.2 L318.3 462.1 L320.3 451.7 L321.4 445.5 L323.4 446.6 L326.6 447.6 L329.7 448.0 L332.8 446.6 L335.9 446.6 L339.0 444.5 L341.7 442.4 L341.4 439.9 L342.4 467.2 L343.4 512.8 L344.1 536.6 L346.6 535.9 L349.0 537.2 L351.3 538.6 L352.3 512.8 L353.4 471.4 L354.4 448.6 L354.1 449.7 L355.5 448.6 L357.6 452.8 L359.7 462.1 L361.3 465.8 L363.8 463.1 L366.9 459.0 L369.4 456.9 L371.0 447.6 L373.1 441.4 L374.1 440.3 L376.2 438.3 L378.3 436.8 L381.4 435.6 L383.4 437.2 L385.5 438.9 L387.6 438.9 L389.7 438.3 L390.7 429.0 L392.8 419.7 L394.8 417.6 L396.9 413.4 L398.3 407.2 L399.6 404.1 L401.0 409.3 L402.5 414.5 L404.1 413.4 L406.2 412.4 L408.3 417.6 L410.3 408.3 L412.4 410.3 L414.5 409.3 L416.6 411.4 L418.2 412.4 L419.7 426.9 L420.7 435.2 L422.3 440.3 L423.8 445.5 L425.9 448.6 L427.9 450.7 L430.0 446.6 L432.1 442.4 L434.1 441.0 L436.2 441.4 L438.3 443.4 L440.3 443.0 L442.4 440.3 L444.5 440.3 L446.6 437.2 L448.6 434.8 L450.7 438.3 L452.8 440.3 L454.8 439.3 L456.9 440.3 L459.0 444.5 L461.0 448.6 L463.1 451.7 L465.2 454.4 L467.2 450.7 L469.3 445.5 L471.4 442.4 L474.5 443.0 L477.6 444.5 L479.7 441.4 L481.7 443.4 L482.8 447.6 L484.8 446.6 L487.9 447.6 L489.3 448.5 L491.4 444.0 L492.8 440.2 L494.5 440.9 L497.6 441.5 L499.7 442.3 L501.7 440.2 L504.8 437.8 L506.9 436.7 L509.0 433.6 L510.0 440.2 L510.6 458.4 L512.1 477.1 L514.1 482.2 L516.8 484.3 L519.3 486.4 L520.8 479.1 L522.0 454.3 L522.8 440.2 L524.5 439.4 L526.6 440.9 L528.6 443.6 L530.7 441.9 L533.8 441.5 L536.9 440.9 L539.0 440.2 L541.0 441.9 L543.1 444.0 L545.2 444.0 L548.3 442.9 L550.3 440.2 L552.4 436.7 L554.1 432.6 L555.7 427.4 L557.0 432.0 L559.7 433.2 L562.3 431.1 L564.4 429.1 L566.5 429.9 L568.6 427.0 L571.0 424.3 L573.5 426.4 L576.2 428.4 L578.9 427.0 L581.4 429.1 L584.5 428.4 L587.2 426.4 L589.7 427.0 L592.8 424.9 L595.4 426.4 L596.9 406.7 L597.9 384.0 L600.0 380.9 L602.1 384.0 L604.1 387.1 L605.6 395.3 L606.8 415.0 L608.3 431.6 L610.3 435.7 L612.4 431.6 L614.1 423.3 L616.1 417.1 L617.6 420.2 L619.0 423.3 L621.1 421.2 L623.2 426.4 L624.8 431.6 L627.3 434.7 L630.0 433.6 L632.7 434.7 L634.8 440.2 L636.8 446.0 L638.9 451.2 L641.4 454.3 L644.5 454.3 L646.6 450.2 L648.6 445.0 L650.1 440.2 L651.7 431.6 L653.8 427.4 L655.9 423.3 L657.9 418.1 L659.0 425.3 L660.0 433.6 L661.0 440.2 L662.1 446.0 L664.1 442.9 L666.2 444.0 L667.9 448.1 L669.3 440.2 L671.4 435.7 L673.4 434.7 L675.5 430.5 L677.6 431.6 L679.7 433.6 L681.7 432.6 L683.8 436.7 L685.2 440.2 L686.9 440.9 L687.9 435.7 L688.7 433.7 L690.3 438.3 L692.8 437.9 L694.5 440.3 L696.6 445.5 L698.6 450.7 L700.7 445.5 L702.8 444.1 L704.8 443.4 L706.5 440.3 L709.0 435.2 L710.6 430.0 L712.1 415.5 L714.1 410.3 L716.8 408.9 L719.3 408.3 L721.0 411.4 L722.0 430.0 L723.4 429.0 L725.1 423.8 L727.2 418.6 L729.7 421.7 L731.7 426.9 L733.4 431.0 L734.8 440.3 L736.3 442.4 L737.5 463.1 L738.6 485.9 L740.0 491.7 L742.1 486.9 L744.6 484.4 L746.6 482.8 L747.4 463.1 L748.3 440.3 L749.3 434.1 L751.4 430.4 L753.4 430.4 L755.5 434.1 L757.0 439.3 L758.2 440.3 L759.7 444.1 L761.7 446.6 L763.8 449.7 L765.2 440.3 L766.3 427.9 L767.9 423.4 L770.6 424.2 L772.7 423.4 L774.1 421.7 L775.2 440.3 L775.8 452.8 L777.2 460.0 L779.3 457.9 L782.4 456.9 L784.5 452.8 L786.6 445.5 L788.6 443.4 L791.3 444.1 L793.4 446.1 L795.9 450.7 L798.3 455.2 L801.0 457.3 L803.7 456.9 L805.8 452.8 L807.9 449.7 L809.9 449.0 L811.4 450.7 L812.4 443.4 L814.1 442.4 L816.1 450.7 L818.2 461.0 L820.7 470.3 L823.2 479.7 L824.8 494.1 L826.5 507.6 L829.0 509.7 L831.4 510.7 L833.1 512.3 L834.8 502.4 L835.6 481.7 L836.8 468.3 L839.3 463.1 L841.8 459.0 L844.5 454.8 L846.6 453.8 L848.6 456.9 L850.7 464.1 L852.1 477.6 L853.8 487.5 L855.9 483.8 L857.9 477.6 L859.6 470.3 L861.7 468.3 L863.7 461.0 L865.2 464.1 L867.2 462.7 L869.3 462.1 L871.4 459.0 L872.8 450.7 L874.5 442.4 L876.1 440.3 L877.6 443.4 L879.7 444.1 L882.3 444.5 L883.8 434.1 L885.2 429.0 L886.9 431.0 L888.2 432.8 L890.1 433.4 L891.7 426.6 L892.8 425.5 L893.8 432.8 L894.4 440.2 L895.9 445.2 L897.3 446.6 L899.0 443.1 L900.6 446.2 L902.1 448.9 L903.5 446.2 L904.8 442.1 L905.6 440.2 L906.8 437.5 L909.3 437.9 L912.4 437.5 L914.5 433.8 L916.6 430.7 L919.2 429.7 L921.7 430.7 L924.2 430.1 L926.9 433.4 L929.0 433.8 L931.0 430.7 L933.1 429.7 L935.2 428.6 L938.3 430.7 L940.3 432.8 L942.4 434.8 L944.9 431.7 L947.6 428.6 L950.3 425.5 L952.8 421.4 L955.2 422.4 L957.9 425.5 L959.4 419.3 L961.0 411.0 L962.7 415.2 L964.1 419.3 L966.2 416.2 L968.3 421.4 L969.7 428.6 L971.4 432.8 L973.0 427.6 L974.5 423.4 L976.6 420.3 L978.0 427.6 L979.7 431.7 L981.7 428.6 L983.4 430.7 L985.4 432.8 L986.9 434.8 L987.9 423.4 L990.0 422.4 L992.1 422.4 L994.1 421.0 L996.2 421.8 L997.9 427.6 L999.3 424.5 L1001.4 421.8 L1004.1 421.4 L1005.5 422.4 L1007.0 419.3 L1008.6 417.2 L1010.3 422.4 L1011.7 421.4 L1013.2 409.0 L1014.2 406.9 L1015.9 411.0 L1017.3 415.2 L1019.0 412.1 L1020.6 408.6 L1022.1 411.0 L1023.1 431.7 L1024.8 428.6 L1026.2 425.5 L1027.7 422.4 L1029.3 424.5 L1031.0 428.6 L1032.4 435.9 L1033.4 440.2 L1034.5 443.1 L1037.2 443.7 L1039.7 443.1 L1041.7 441.0 L1042.3 440.2 L1043.4 427.6 L1044.8 425.9 L1046.9 424.5 L1049.0 425.5 L1050.4 425.1 L1051.7 411.0 L1053.7 409.0 L1055.8 406.5 L1057.9 403.8 L1059.3 402.8 L1060.8 406.9 L1062.0 416.2 L1064.1 413.1 L1066.1 416.2 L1067.6 418.3 L1067.9 418.3 L1069.0 407.2 L1069.7 385.2 L1070.7 343.8 L1071.4 322.8 L1072.3 309.0 L1073.4 299.3 L1074.8 297.9 L1076.2 292.4 L1077.3 282.8 L1078.3 274.5 L1079.7 273.8 L1080.3 275.9 L1080.8 295.2 L1081.4 307.6 L1082.4 304.8 L1083.8 302.1 L1085.2 299.3 L1086.1 292.4 L1087.2 278.6 L1088.2 269.0 L1088.9 271.7 L1089.7 284.1 L1090.4 271.7 L1091.4 253.8 L1092.8 252.1 L1093.9 254.5 L1095.2 257.9 L1096.6 262.8 L1097.3 269.0 L1098.0 285.5 L1099.0 299.3 L1100.1 309.0 L1100.8 322.8 L1101.0 350.7 L1101.7 367.2 L1102.7 378.3 L1103.5 364.5 L1104.2 343.8 L1103.8 331.0 L1105.2 325.5 L1106.1 314.5 L1107.2 302.1 L1108.2 296.6 L1109.0 300.7 L1110.0 303.4 L1111.4 303.4 L1112.8 309.0 L1113.4 322.8 L1113.4 347.9 L1114.4 364.5 L1115.5 367.2 L1116.2 357.6 L1116.9 343.8 L1116.9 309.0 L1117.6 284.1 L1119.0 281.4 L1120.3 280.7 L1121.7 277.2 L1122.8 273.8 L1123.8 272.4 L1125.2 274.2 L1125.9 285.5 L1126.4 309.0 L1126.4 332.4" fill="none" stroke="#3f6fe0" stroke-width="1.8" stroke-linejoin="round"/>
<g stroke="#b6b6c8" stroke-opacity="0.85" stroke-width="1.3" stroke-dasharray="4.1 3.05">
<line x1="85.7" y1="353.2" x2="1136.8" y2="353.2"/>
<line x1="85.7" y1="388.0" x2="1136.8" y2="388.0"/>
<line x1="85.7" y1="414.1" x2="1136.8" y2="414.1"/>
<line x1="85.7" y1="466.3" x2="1136.8" y2="466.3"/>
<line x1="85.7" y1="492.4" x2="1136.8" y2="492.4"/>
<line x1="85.7" y1="527.2" x2="1136.8" y2="527.2"/>
</g>
<line x1="85.5" y1="440.4" x2="1136.8" y2="440.4" stroke="#1a1a1a" stroke-width="1.35" stroke-dasharray="4.4 2.8"/>
<path d="M95.5 473.8 L97.6 479.0 L99.7 482.1 L101.7 484.1 L103.8 485.6 L105.9 484.1 L106.9 480.0 L107.9 485.6 L110.0 486.8 L112.1 483.1 L114.1 484.1 L116.8 486.8 L119.3 485.6 L122.0 481.0 L123.9 470.7 L125.9 467.6 L127.2 469.7 L128.6 465.5 L130.7 467.6 L132.8 469.7 L134.8 471.7 L136.3 465.5 L137.9 459.3 L140.0 461.4 L141.4 469.7 L142.7 483.1 L143.7 505.9 L145.2 516.2 L146.6 514.1 L148.3 518.3 L149.9 522.4 L151.4 524.5 L152.8 519.3 L154.5 522.4 L156.1 519.9 L158.2 521.4 L159.7 527.6 L161.7 532.8 L163.2 526.6 L164.8 523.4 L166.9 524.5 L169.0 523.4 L170.4 529.0 L172.1 522.4 L174.1 515.8 L176.2 516.2 L178.3 516.6 L180.8 514.1 L182.8 517.2 L184.9 516.6 L186.6 514.1 L188.6 515.2 L190.3 515.8 L191.7 509.0 L193.2 503.4 L194.8 511.0 L196.5 517.2 L197.9 520.8 L200.0 521.4 L202.1 519.7 L204.1 519.9 L206.2 519.7 L208.3 519.7 L210.8 519.7 L212.8 522.0 L215.5 523.4 L218.2 523.4 L220.7 521.4 L222.8 519.9 L224.8 519.7 L227.3 518.3 L229.4 515.2 L231.4 513.1 L233.1 507.9 L234.8 493.4 L236.2 474.8 L237.2 465.5 L239.3 462.4 L241.4 460.3 L243.4 462.4 L244.5 464.5 L245.5 454.1 L246.6 444.8 L247.6 439.7 L249.7 440.7 L251.7 438.6 L253.8 439.7 L255.9 438.6 L257.9 434.5 L259.6 436.6 L261.0 439.7 L263.1 431.4 L264.8 434.5 L266.2 436.6 L268.3 439.7 L270.3 438.6 L272.4 437.6 L273.9 445.9 L275.5 452.1 L277.6 453.7 L279.7 452.1 L281.1 445.9 L282.3 433.4 L283.8 423.1 L284.8 426.8 L285.9 422.1 L287.9 421.4 L289.3 421.3 L292.0 426.9 L294.1 427.9 L295.5 434.1 L296.6 438.9 L298.2 435.2 L300.7 434.1 L302.8 433.5 L304.4 441.4 L305.9 445.9 L307.9 446.6 L310.0 447.6 L312.1 455.9 L313.5 468.3 L314.8 474.9 L316.2 468.3 L317.9 462.1 L319.3 439.3 L320.3 420.7 L322.4 418.6 L323.9 408.3 L325.5 395.9 L327.6 390.7 L329.7 389.2 L331.7 388.6 L333.8 389.7 L335.4 391.7 L336.9 393.8 L338.3 392.8 L340.0 396.9 L341.4 389.7 L343.1 385.9 L345.2 384.5 L347.2 386.6 L349.3 385.5 L351.4 388.6 L353.4 389.2 L355.5 389.2 L357.6 387.6 L359.0 375.2 L360.3 370.0 L362.3 367.9 L363.8 365.9 L365.9 367.9 L367.9 371.0 L370.0 372.1 L372.1 380.3 L374.1 389.7 L375.6 394.8 L377.7 392.8 L379.7 390.7 L381.4 380.3 L383.4 377.2 L386.6 376.8 L388.6 386.6 L390.7 380.3 L393.2 377.2 L395.9 379.3 L397.9 387.6 L400.0 391.7 L402.1 395.9 L403.5 403.1 L405.2 400.0 L407.2 394.8 L409.3 396.9 L411.4 395.9 L413.4 399.0 L415.5 397.9 L417.6 399.0 L419.0 394.8 L420.7 401.0 L422.3 405.2 L424.2 400.0 L425.9 392.8 L427.9 389.7 L430.0 394.8 L432.1 397.9 L434.1 395.9 L436.2 399.0 L438.3 407.2 L440.3 401.0 L442.4 402.1 L444.5 409.3 L446.6 408.3 L448.6 407.2 L450.1 411.4 L451.7 416.1 L453.4 405.2 L455.4 402.1 L457.5 401.0 L459.0 389.7 L460.4 376.2 L462.1 369.0 L464.6 365.2 L466.8 366.9 L468.7 369.0 L470.3 366.5 L472.4 367.3 L474.5 365.9 L476.6 364.8 L478.6 362.8 L480.3 365.9 L482.3 369.0 L484.8 369.0 L486.9 367.9 L489.3 366.4 L491.4 364.3 L492.8 362.9 L494.5 367.8 L497.6 370.5 L500.7 372.0 L502.8 371.6 L505.2 371.1 L507.3 376.7 L510.0 377.3 L512.1 376.7 L515.2 377.3 L517.2 379.4 L518.9 375.7 L521.4 377.8 L524.5 378.8 L526.6 377.3 L528.6 374.0 L530.7 375.7 L533.4 376.1 L535.9 376.1 L539.0 377.3 L540.4 384.0 L541.7 398.4 L543.1 406.7 L545.2 407.8 L547.2 406.7 L549.3 404.7 L551.4 407.8 L554.5 407.1 L556.6 404.7 L558.2 396.4 L559.2 394.3 L560.7 402.6 L562.3 409.2 L564.8 409.2 L566.9 410.4 L569.0 409.8 L571.0 407.8 L573.1 409.8 L575.2 412.5 L576.8 408.8 L578.9 405.7 L580.3 403.6 L582.4 402.6 L584.5 401.6 L586.6 398.4 L588.0 396.8 L589.7 399.5 L591.7 401.6 L593.8 403.6 L595.9 405.7 L598.3 404.2 L600.4 401.6 L602.5 399.5 L604.1 395.3 L605.6 389.1 L606.6 393.3 L608.3 393.3 L610.3 392.2 L612.4 390.2 L614.1 389.1 L616.1 392.2 L618.2 396.4 L620.3 400.1 L622.8 399.5 L624.2 394.3 L625.9 386.0 L627.9 385.0 L630.0 380.9 L632.1 375.7 L634.1 368.4 L635.2 359.1 L635.6 347.2 L636.3 339.0 L637.5 336.9 L639.3 337.3 L641.0 339.4 L642.8 337.6 L644.4 336.2 L646.2 335.5 L647.9 334.1 L649.2 330.0 L650.3 334.8 L652.1 332.8 L654.1 331.4 L655.9 331.8 L657.2 329.3 L658.6 322.4 L660.0 318.3 L661.8 316.6 L663.4 316.9 L664.8 319.0 L666.5 323.1 L667.6 322.4 L668.7 318.3 L669.7 321.7 L671.4 321.0 L673.1 319.0 L674.8 315.5 L675.9 316.9 L677.2 319.9 L678.6 316.2 L680.3 313.4 L681.7 312.5 L683.0 313.9 L684.4 316.2 L685.8 314.1 L687.2 311.1 L688.6 312.1 L690.3 307.2 L692.1 302.4 L693.5 296.2 L694.9 286.6 L696.3 279.0 L697.2 273.4 L698.6 274.8 L700.0 274.1 L701.8 272.5 L703.2 274.8 L704.1 282.4 L705.5 287.2 L706.9 287.2 L708.3 279.7 L709.7 281.0 L711.4 283.1 L713.1 285.2 L714.2 288.6 L715.6 281.7 L717.2 276.9 L718.9 274.4 L720.7 273.9 L722.8 274.4 L724.1 276.9 L725.5 279.7 L727.6 279.4 L729.0 281.7 L730.8 283.8 L732.4 282.1 L733.8 279.7 L734.9 272.8 L735.9 267.2 L737.5 275.5 L740.0 273.9 L742.1 272.4 L743.7 266.2 L745.2 259.0 L746.6 261.0 L748.3 257.9 L749.7 269.3 L751.4 279.7 L753.4 280.1 L755.5 279.2 L757.6 282.8 L759.7 289.0 L761.7 286.9 L763.4 293.1 L764.8 301.4 L766.5 297.2 L767.9 297.2 L769.6 290.0 L771.4 284.8 L773.5 281.7 L775.2 276.6 L777.2 281.7 L779.3 278.6 L781.4 279.7 L783.4 280.1 L785.5 278.6 L787.2 271.4 L788.6 257.9 L790.7 252.8 L792.8 247.6 L794.8 240.3 L796.3 233.1 L797.6 230.1 L799.7 230.7 L801.7 231.7 L803.4 229.7 L805.4 231.7 L807.5 232.8 L809.6 234.8 L811.7 232.8 L813.1 227.6 L814.1 213.1 L815.4 198.6 L816.6 186.2 L817.9 184.6 L819.9 185.2 L821.4 184.1 L822.4 175.9 L824.1 169.7 L826.1 168.6 L828.2 164.5 L830.3 159.3 L832.3 153.1 L833.8 147.9 L835.2 144.4 L836.9 145.9 L837.9 153.1 L839.4 160.3 L841.0 163.4 L842.5 161.4 L843.7 171.7 L845.6 177.9 L846.8 167.6 L848.3 174.8 L850.3 174.2 L851.8 165.5 L853.0 157.2 L854.1 152.1 L855.5 153.5 L857.6 152.7 L859.7 153.5 L861.7 152.1 L863.2 160.3 L864.2 167.6 L865.9 168.6 L867.9 164.5 L870.0 160.3 L871.7 154.1 L872.7 150.0 L874.1 154.1 L875.6 156.2 L877.0 152.7 L878.7 159.3 L880.3 170.7 L881.4 176.9 L882.4 172.8 L884.1 180.0 L886.1 183.1 L888.2 180.0 L890.3 173.8 L892.3 169.7 L894.2 168.0 L895.9 171.7 L897.3 175.9 L899.4 180.0 L901.0 177.9 L902.7 182.1 L904.1 190.3 L905.2 200.7 L906.8 199.7 L908.3 186.2 L909.7 179.0 L911.8 177.5 L913.9 180.0 L915.5 185.2 L917.6 186.2 L919.2 189.9 L921.3 184.1 L922.8 186.2 L924.2 181.0 L925.9 171.7 L927.5 167.6 L929.6 165.5 L931.7 163.4 L933.1 151.0 L934.8 156.2 L936.2 161.4 L937.9 162.4 L939.3 158.3 L941.4 157.7 L943.4 160.3 L945.5 161.4 L947.6 162.4 L949.7 162.4 L951.7 158.3 L953.8 153.1 L954.8 150.6 L956.9 151.4 L958.6 155.6 L960.7 156.2 L962.3 163.4 L963.8 161.4 L965.9 165.5 L967.9 168.6 L971.0 168.6 L973.1 171.7 L975.2 172.1 L977.2 175.9 L979.3 175.9 L980.8 187.2 L983.4 187.9 L986.6 188.7 L988.6 189.3 L990.3 184.1 L991.3 181.0 L992.8 184.1 L994.2 194.5 L995.4 202.8 L996.9 212.1 L998.6 204.8 L1000.0 211.0 L1001.0 203.8 L1002.1 210.0 L1003.7 201.7 L1005.8 204.8 L1007.9 199.7 L1009.3 192.4 L1010.8 181.0 L1012.4 172.8 L1014.1 174.8 L1015.5 174.8 L1017.0 169.7 L1018.6 164.5 L1020.7 163.4 L1022.8 167.6 L1024.8 174.2 L1026.5 164.5 L1027.9 160.3 L1029.4 161.4 L1031.0 158.3 L1032.5 166.6 L1034.1 172.8 L1036.2 179.0 L1037.9 188.3 L1039.3 202.8 L1040.3 222.4 L1041.8 211.0 L1043.4 203.8 L1045.1 194.5 L1046.6 190.8 L1048.6 191.4 L1050.7 198.2 L1052.8 192.4 L1054.8 200.7 L1056.9 196.6 L1059.0 198.2 L1060.4 194.5 L1062.1 195.5 L1063.7 192.4 L1065.2 186.2 L1066.6 177.9 L1068.3 175.9 L1069.9 177.9 L1071.4 186.2 L1072.8 196.6 L1074.5 195.5 L1076.1 198.2 L1078.2 200.7 L1080.3 198.6 L1081.7 201.7 L1083.2 206.9 L1084.8 212.1 L1086.3 218.9 L1087.9 219.7 L1089.4 215.2 L1091.0 207.9 L1093.1 205.9 L1094.8 200.7 L1096.6 193.4 L1098.3 192.8 L1099.7 201.7 L1101.4 195.5 L1103.0 189.3 L1104.5 181.7 L1106.6 179.6 L1108.6 181.0 L1110.7 179.6 L1112.8 177.5 L1114.4 171.7 L1115.9 170.1 L1117.9 170.7 L1119.6 175.9 L1121.0 183.1 L1122.7 188.3 L1124.1 190.3 L1125.6 186.6 L1126.8 185.8" fill="none" stroke="#111111" stroke-width="1.7" stroke-linejoin="round" stroke-linecap="round"/>
<rect x="1119.4" y="266.9" width="18.5" height="338.6" fill="none" stroke="#e8343c" stroke-width="1.7"/>
<rect x="78.2" y="125" width="1.9" height="527.5" fill="#3c3c40"/>
<rect x="1142.4" y="125.3" width="1.7" height="527.5" fill="#d6d6e0"/>
<text x="41.2" y="656.1" font-size="16" fill="#2a2a2a" textLength="26.2" lengthAdjust="spacingAndGlyphs">10K</text>
<text x="41.2" y="552.5" font-size="16" fill="#2a2a2a" textLength="26.2" lengthAdjust="spacingAndGlyphs">15K</text>
<text x="41.2" y="478.9" font-size="16" fill="#2a2a2a" textLength="26.2" lengthAdjust="spacingAndGlyphs">20K</text>
<text x="41.2" y="421.9" font-size="16" fill="#2a2a2a" textLength="26.2" lengthAdjust="spacingAndGlyphs">25K</text>
<text x="41.2" y="375.3" font-size="16" fill="#2a2a2a" textLength="26.2" lengthAdjust="spacingAndGlyphs">30K</text>
<text x="41.2" y="335.9" font-size="16" fill="#2a2a2a" textLength="26.2" lengthAdjust="spacingAndGlyphs">35K</text>
<text x="41.2" y="301.8" font-size="16" fill="#2a2a2a" textLength="26.2" lengthAdjust="spacingAndGlyphs">40K</text>
<text x="41.2" y="271.7" font-size="16" fill="#2a2a2a" textLength="26.2" lengthAdjust="spacingAndGlyphs">45K</text>
<text x="41.2" y="244.8" font-size="16" fill="#2a2a2a" textLength="26.2" lengthAdjust="spacingAndGlyphs">50K</text>
<text x="41.2" y="220.4" font-size="16" fill="#2a2a2a" textLength="26.2" lengthAdjust="spacingAndGlyphs">55K</text>
<text x="41.2" y="198.2" font-size="16" fill="#2a2a2a" textLength="26.2" lengthAdjust="spacingAndGlyphs">60K</text>
<text x="41.2" y="177.7" font-size="16" fill="#2a2a2a" textLength="26.2" lengthAdjust="spacingAndGlyphs">65K</text>
<text x="41.2" y="158.8" font-size="16" fill="#2a2a2a" textLength="26.2" lengthAdjust="spacingAndGlyphs">70K</text>
<text x="41.2" y="141.2" font-size="16" fill="#2a2a2a" textLength="26.2" lengthAdjust="spacingAndGlyphs">75K</text>
<text x="1155" y="182.1" font-size="16" fill="#2a2a2a" textLength="26.4" lengthAdjust="spacingAndGlyphs">30B</text>
<text x="1155" y="313.6" font-size="16" fill="#2a2a2a" textLength="26.0" lengthAdjust="spacingAndGlyphs">15B</text>
<text x="1155" y="444.1" font-size="16" fill="#2a2a2a" textLength="8.2" lengthAdjust="spacingAndGlyphs">0</text>
<text x="1155" y="574.6" font-size="16" fill="#2a2a2a" textLength="32.0" lengthAdjust="spacingAndGlyphs">-15B</text>
<text transform="translate(30.6,431.2) rotate(-90)" font-size="16" fill="#2a2a2a" textLength="85.3" lengthAdjust="spacingAndGlyphs">BTC Price ($)</text>
<text transform="translate(1197.6,304.6) rotate(90)" font-size="16" fill="#2a2a2a" textLength="169.5" lengthAdjust="spacingAndGlyphs">Realized Cap Change ($)</text>
<text x="105.6" y="677" font-size="13" fill="#8f8f97" textLength="53.5" lengthAdjust="spacingAndGlyphs">2022 Nov</text>
<text x="195.1" y="677" font-size="13" fill="#8f8f97" textLength="48.5" lengthAdjust="spacingAndGlyphs">2023 Jan</text>
<text x="275.6" y="677" font-size="13" fill="#8f8f97" textLength="53.5" lengthAdjust="spacingAndGlyphs">2023 Mar</text>
<text x="361.1" y="677" font-size="13" fill="#8f8f97" textLength="54.5" lengthAdjust="spacingAndGlyphs">2023 May</text>
<text x="452.3" y="677" font-size="13" fill="#8f8f97" textLength="45.0" lengthAdjust="spacingAndGlyphs">2023 Jul</text>
<text x="536.0" y="677" font-size="13" fill="#8f8f97" textLength="51.5" lengthAdjust="spacingAndGlyphs">2023 Sep</text>
<text x="621.5" y="677" font-size="13" fill="#8f8f97" textLength="53.5" lengthAdjust="spacingAndGlyphs">2023 Nov</text>
<text x="710.0" y="677" font-size="13" fill="#8f8f97" textLength="48.5" lengthAdjust="spacingAndGlyphs">2024 Jan</text>
<text x="792.5" y="677" font-size="13" fill="#8f8f97" textLength="53.5" lengthAdjust="spacingAndGlyphs">2024 Mar</text>
<text x="878.5" y="677" font-size="13" fill="#8f8f97" textLength="54.5" lengthAdjust="spacingAndGlyphs">2024 May</text>
<text x="969.3" y="677" font-size="13" fill="#8f8f97" textLength="45.0" lengthAdjust="spacingAndGlyphs">2024 Jul</text>
<text x="1053.5" y="677" font-size="13" fill="#8f8f97" textLength="51.5" lengthAdjust="spacingAndGlyphs">2024 Sep</text>
<text x="379.3" y="50.8" font-size="23" font-weight="bold" fill="#111" textLength="51.1" lengthAdjust="spacingAndGlyphs">BTC:</text>
<text x="437.3" y="50.8" font-size="23" font-weight="bold" fill="#111" textLength="47.6" lengthAdjust="spacingAndGlyphs">STH</text>
<text x="493.8" y="50.8" font-size="23" font-weight="bold" fill="#111" textLength="43.2" lengthAdjust="spacingAndGlyphs">LTH</text>
<text x="545.9" y="50.8" font-size="23" font-weight="bold" fill="#111" textLength="43.0" lengthAdjust="spacingAndGlyphs">Net</text>
<text x="596.5" y="50.8" font-size="23" font-weight="bold" fill="#111" textLength="94.6" lengthAdjust="spacingAndGlyphs">Position</text>
<text x="700.3" y="50.8" font-size="23" font-weight="bold" fill="#111" textLength="96.5" lengthAdjust="spacingAndGlyphs">Realized</text>
<text x="805.1" y="50.8" font-size="23" font-weight="bold" fill="#111" textLength="44.8" lengthAdjust="spacingAndGlyphs">Cap</text>
<line x1="67.6" y1="77.6" x2="78" y2="77.6" stroke="#85858f" stroke-width="1.8"/>
<rect x="85.3" y="77" width="1.3" height="1.3" fill="#85858f"/>
<text x="90.5" y="83.0" font-size="15.5" fill="#85858f" textLength="112.3" lengthAdjust="spacingAndGlyphs">STH Market Cap</text>
<line x1="90.5" y1="77.8" x2="202.8" y2="77.8" stroke="#85858f" stroke-width="1.2"/>
<line x1="221.6" y1="77.6" x2="239.4" y2="77.6" stroke="#85858f" stroke-width="1.8"/>
<text x="244.6" y="83.0" font-size="15.5" fill="#85858f" textLength="120.3" lengthAdjust="spacingAndGlyphs">STH Realized Cap</text>
<line x1="244.6" y1="77.8" x2="364.9" y2="77.8" stroke="#85858f" stroke-width="1.2"/>
<line x1="383.4" y1="77.6" x2="389.4" y2="77.6" stroke="#85858f" stroke-width="1.8"/>
<line x1="395.4" y1="77.6" x2="401.2" y2="77.6" stroke="#85858f" stroke-width="1.8"/>
<text x="407.0" y="83.0" font-size="15.5" fill="#85858f" textLength="110.0" lengthAdjust="spacingAndGlyphs">LTH Market Cap</text>
<line x1="407.0" y1="77.8" x2="517.0" y2="77.8" stroke="#85858f" stroke-width="1.2"/>
<line x1="535.3" y1="77.6" x2="554.7" y2="77.6" stroke="#85858f" stroke-width="1.8"/>
<text x="559.4" y="83.0" font-size="15.5" fill="#85858f" textLength="118.2" lengthAdjust="spacingAndGlyphs">LTH Realized Cap</text>
<line x1="559.4" y1="77.8" x2="677.6" y2="77.8" stroke="#85858f" stroke-width="1.2"/>
<circle cx="705" cy="75.5" r="8" fill="#f3bf9b"/>
<text x="719.5" y="83.0" font-size="15.5" fill="#2e2e2e" textLength="199.3" lengthAdjust="spacingAndGlyphs">STH Realized Cap Change 7d</text>
<circle cx="947.3" cy="75.5" r="8" fill="#5a83ea"/>
<text x="961.4" y="83.0" font-size="15.5" fill="#2e2e2e" textLength="197.6" lengthAdjust="spacingAndGlyphs">LTH Realized Cap Change 7d</text>
<line x1="67.6" y1="98.4" x2="85.9" y2="98.4" stroke="#222" stroke-width="2"/>
<text x="90.5" y="103.4" font-size="15.5" fill="#2a2a2a" textLength="107.0" lengthAdjust="spacingAndGlyphs">BTC Price [USD]</text>
<g transform="translate(465.4,687)"><rect x="0.3" y="0" width="2.2" height="13.8" rx="0.8" fill="#2a2226"/><path d="M2.3 0.4 L14.4 5.2 L2.3 10.2 Z" fill="#e3262e"/></g>
<text x="484.6" y="698.5" font-size="13.4" fill="#8b8b94" textLength="129.3" lengthAdjust="spacingAndGlyphs">Daily on-chain analysis:</text>
<text x="617.3" y="698.5" font-size="13.4" fill="#70707a" textLength="140.7" lengthAdjust="spacingAndGlyphs">https://x.com/AxelAdlerJr</text>
<line x1="617.3" y1="700.3" x2="758" y2="700.3" stroke="#70707a" stroke-width="1"/>
<text x="1057" y="698" font-size="10.5" fill="#84848c" textLength="158" lengthAdjust="spacingAndGlyphs">© CryptoQuant. All rights reserved</text>
</svg></body></html>
